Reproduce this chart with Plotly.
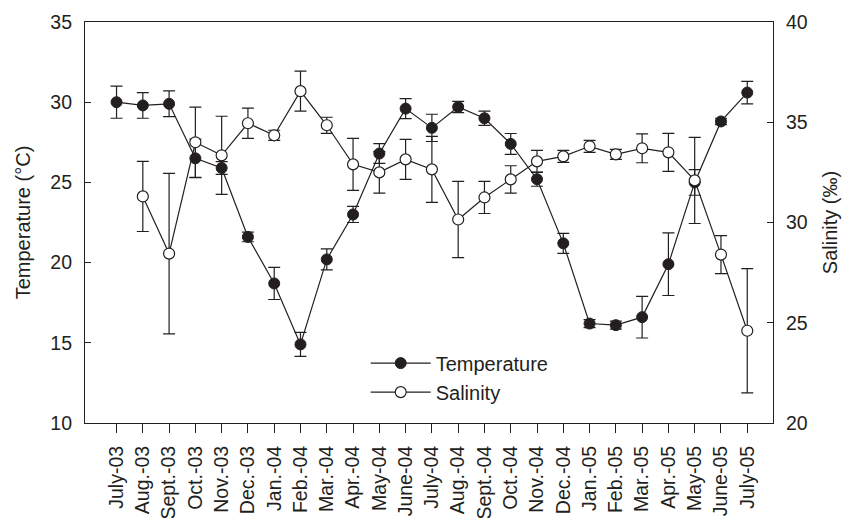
import plotly.graph_objects as go

months = ["July-03", "Aug.-03", "Sept.-03", "Oct.-03", "Nov.-03", "Dec.-03",
          "Jan.-04", "Feb.-04", "Mar.-04", "Apr.-04", "May-04", "June-04",
          "July-04", "Aug.-04", "Sept.-04", "Oct.-04", "Nov.-04", "Dec.-04",
          "Jan.-05", "Feb.-05", "Mar.-05", "Apr.-05", "May-05", "June-05", "July-05"]

temperature = [30.0, 29.8, 29.9, 26.5, 25.9, 21.6, 18.7, 14.9, 20.2, 23.0, 26.8, 29.6,
               28.4, 29.7, 29.0, 27.4, 25.2, 21.2, 16.2, 16.1, 16.6, 19.9, 25.0, 28.8, 30.6]
temperature_err = [1.0, 0.8, 0.8, 1.2, 0.4, 0.3, 1.0, 0.75, 0.65, 0.5, 0.62, 0.62,
                   0.85, 0.35, 0.44, 0.65, 0.44, 0.62, 0.25, 0.25, 1.3, 1.95, 0.8, 0.2, 0.7]

salinity = [None, 31.3, 28.45, 34.0, 33.35, 34.95, 34.35, 36.55, 34.85, 32.9, 32.5, 33.15,
            32.65, 30.15, 31.25, 32.15, 33.05, 33.3, 33.8, 33.4, 33.7, 33.5, 32.1, 28.4, 24.6]
salinity_err = [None, 1.75, 4.0, 1.75, 1.95, 0.75, 0.25, 1.0, 0.4, 1.3, 1.03, 1.0,
                1.65, 1.9, 0.8, 0.68, 0.55, 0.3, 0.3, 0.25, 0.72, 0.95, 2.15, 0.95, 3.1]

temp_ticks = [10, 15, 20, 25, 30, 35]
sal_ticks = [20, 25, 30, 35, 40]

ink = "#231f20"
font = "Liberation Sans, Arial, sans-serif"
x_idx = list(range(len(months)))

fig = go.Figure()
fig.add_trace(go.Scatter(
    x=x_idx, y=temperature, name="Temperature", mode="lines+markers",
    line=dict(color=ink, width=1.2),
    marker=dict(symbol="circle", size=11, color=ink, line=dict(color=ink, width=1)),
    error_y=dict(type="data", array=temperature_err, color=ink, thickness=1.2, width=6),
    yaxis="y",
))
fig.add_trace(go.Scatter(
    x=x_idx, y=salinity, name="Salinity", mode="lines+markers",
    line=dict(color=ink, width=1.2),
    marker=dict(symbol="circle", size=11, color="white", line=dict(color=ink, width=1.2)),
    error_y=dict(type="data", array=salinity_err, color=ink, thickness=1.2, width=6),
    yaxis="y2",
))

fig.update_layout(
    width=850, height=518,
    margin=dict(l=77, r=85, t=14, b=103),
    paper_bgcolor="white", plot_bgcolor="white",
    font=dict(family=font, size=20, color=ink),
    showlegend=True,
    legend=dict(x=0.408, y=0.198, xanchor="left", yanchor="top",
                bgcolor="rgba(0,0,0,0)", font=dict(size=20), itemwidth=60,
                tracegroupgap=0),
    xaxis=dict(
        range=[-1.2, 24.98], tickmode="array", tickvals=x_idx, ticktext=months,
        tickangle=-90, tickfont=dict(size=19.5), ticks="outside", ticklen=9,
        tickcolor=ink, showline=True, linecolor=ink, linewidth=1.2, mirror=True,
        showgrid=False, zeroline=False, automargin=False, ticklabelstandoff=5,
    ),
    yaxis=dict(
        range=[10, 35], tickvals=temp_ticks, ticks="inside", ticklen=6, tickcolor=ink,
        showline=True, linecolor=ink, linewidth=1.2, showgrid=False, zeroline=False,
        title=dict(text="Temperature (°C)", font=dict(size=20), standoff=14),
        tickfont=dict(size=19.5), automargin=False, ticklabelstandoff=8,
    ),
    yaxis2=dict(
        range=[20, 40], tickvals=sal_ticks, ticks="inside", ticklen=6, tickcolor=ink,
        overlaying="y", side="right", showline=True, linecolor=ink, linewidth=1.2,
        showgrid=False, zeroline=False, automargin=False, ticklabelstandoff=8,
        title=dict(text="Salinity (‰)", font=dict(size=20), standoff=16),
        tickfont=dict(size=19.5),
    ),
)

fig.write_html("out.html")
